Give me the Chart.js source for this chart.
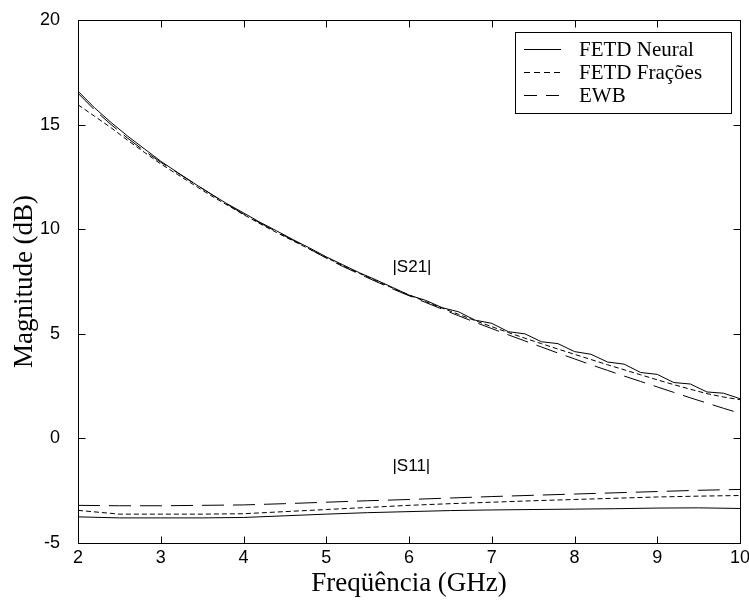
<!DOCTYPE html>
<html><head><meta charset="utf-8">
<script src="https://cdn.jsdelivr.net/npm/chart.js@4.4.1/dist/chart.umd.min.js"></script>
<style>html,body{margin:0;padding:0;background:#fff}</style>
</head><body>
<canvas id="c" width="749" height="603" style="display:block;width:749px;height:603px"></canvas>
<script>
const seriesNames = ['FETD Neural', 'FETD Frações', 'EWB'];
const xTicks = [2, 3, 4, 5, 6, 7, 8, 9, 10];
const yTicks = [-5, 0, 5, 10, 15, 20];

const freqS21 = [2.0,2.2,2.4,2.6,2.8,3.0,3.2,3.4,3.6,3.8,4.0,4.2,4.4,4.6,4.8,5.0,5.2,5.4,5.6,5.8,6.0,6.2,6.4,6.6,6.8,7.0,7.2,7.4,7.6,7.8,8.0,8.2,8.4,8.6,8.8,9.0,9.2,9.4,9.6,9.8,10.0];
const s21Neural = [16.6,15.8,15.1,14.45,13.85,13.25,12.72,12.2,11.7,11.22,10.78,10.33,9.92,9.5,9.1,8.68,8.3,7.92,7.58,7.22,6.85,6.6,6.25,6.05,5.65,5.5,5.1,5.0,4.62,4.53,4.15,4.02,3.65,3.55,3.15,3.06,2.67,2.6,2.22,2.16,1.9];
const s21Fracoes = [15.95,15.4,14.85,14.25,13.68,13.12,12.62,12.12,11.62,11.16,10.7,10.26,9.84,9.44,9.04,8.64,8.26,7.89,7.54,7.19,6.86,6.54,6.23,5.93,5.63,5.34,5.06,4.79,4.53,4.27,4.02,3.77,3.52,3.28,3.04,2.8,2.57,2.35,2.14,1.98,1.85];
const s21EWB = [16.5,15.7,15.0,14.35,13.75,13.2,12.7,12.2,11.7,11.2,10.72,10.3,9.88,9.47,9.05,8.62,8.22,7.86,7.5,7.15,6.82,6.5,6.18,5.86,5.55,5.25,4.95,4.66,4.37,4.08,3.8,3.52,3.25,2.98,2.72,2.46,2.2,1.94,1.69,1.44,1.2];

const freqS11 = [2.0,2.5,3.0,3.5,4.0,4.5,5.0,5.5,6.0,6.5,7.0,7.5,8.0,8.5,9.0,9.5,10.0];
const s11Neural = [-3.75,-3.8,-3.8,-3.8,-3.78,-3.7,-3.62,-3.55,-3.5,-3.45,-3.42,-3.4,-3.38,-3.36,-3.33,-3.32,-3.35];
const s11Fracoes = [-3.44,-3.62,-3.62,-3.62,-3.6,-3.5,-3.4,-3.3,-3.2,-3.12,-3.05,-2.98,-2.92,-2.86,-2.8,-2.76,-2.73];
const s11EWB = [-3.2,-3.22,-3.22,-3.2,-3.18,-3.12,-3.05,-2.98,-2.92,-2.85,-2.78,-2.72,-2.66,-2.6,-2.54,-2.48,-2.44];

const annotations = [
  {text: '|S21|', x: 5.8, y: 8.2},
  {text: '|S11|', x: 5.8, y: -1.35}
];

const dashes = [[], [5, 3], [22, 9]];
const legendDashes = [[], [6, 4], [13, 9]];

function pts(xs, ys) { return xs.map((v, i) => ({x: v, y: ys[i]})); }
function ds(label, xs, ys, k) {
  return {label, data: pts(xs, ys), borderColor: '#000', borderWidth: 1, borderDash: dashes[k],
    pointRadius: 0, fill: false, tension: 0};
}

const frame = {
  id: 'frame',
  afterDraw(chart) {
    const {ctx, chartArea: a, scales: {x, y}} = chart;
    const L = Math.round(a.left) + 0.5, R = Math.round(a.right) + 0.5;
    const T = Math.round(a.top) + 0.5, B = Math.round(a.bottom) + 0.5;
    ctx.save();
    ctx.strokeStyle = '#000'; ctx.lineWidth = 1; ctx.setLineDash([]);
    ctx.strokeRect(L, T, R - L, B - T);
    const tl = 7;
    ctx.beginPath();
    xTicks.forEach(v => {
      const px = Math.round(x.getPixelForValue(v)) + 0.5;
      ctx.moveTo(px, B); ctx.lineTo(px, B - tl);
      ctx.moveTo(px, T); ctx.lineTo(px, T + tl);
    });
    yTicks.forEach(v => {
      const py = Math.round(y.getPixelForValue(v)) + 0.5;
      ctx.moveTo(L, py); ctx.lineTo(L + tl, py);
      ctx.moveTo(R, py); ctx.lineTo(R - tl, py);
    });
    ctx.stroke();
    // annotations
    ctx.fillStyle = '#000';
    ctx.font = '17px "Liberation Sans", Arial, sans-serif';
    ctx.textAlign = 'left'; ctx.textBaseline = 'middle';
    annotations.forEach(an => {
      ctx.fillText(an.text, x.getPixelForValue(an.x), y.getPixelForValue(an.y));
    });
    // legend box
    const bx = 515.5, by = 32.5, bw = 216, bh = 81;
    ctx.fillStyle = '#fff';
    ctx.fillRect(bx, by, bw, bh);
    ctx.strokeRect(bx, by, bw, bh);
    ctx.font = '21px "Liberation Serif", "Times New Roman", serif';
    ctx.fillStyle = '#000';
    seriesNames.forEach((name, i) => {
      const ry = Math.round(by + 16 + i * 23) + 0.5;
      ctx.setLineDash(legendDashes[i]);
      ctx.beginPath(); ctx.moveTo(524, ry); ctx.lineTo(561, ry); ctx.stroke();
      ctx.setLineDash([]);
      ctx.fillText(name, 579, ry + 1);
    });
    ctx.restore();
  }
};

new Chart(document.getElementById('c'), {
  type: 'line',
  data: {
    datasets: [
      ds(seriesNames[0], freqS21, s21Neural, 0),
      ds(seriesNames[1], freqS21, s21Fracoes, 1),
      ds(seriesNames[2], freqS21, s21EWB, 2),
      ds(seriesNames[0], freqS11, s11Neural, 0),
      ds(seriesNames[1], freqS11, s11Fracoes, 1),
      ds(seriesNames[2], freqS11, s11EWB, 2)
    ]
  },
  options: {
    responsive: false,
    animation: false,
    layout: {padding: {left: 0, right: 9, top: 20, bottom: 0}},
    plugins: {legend: {display: false}, tooltip: {enabled: false}},
    scales: {
      x: {
        type: 'linear', min: 2, max: 10,
        afterBuildTicks: s => { s.ticks = xTicks.map(v => ({value: v})); },
        afterFit: s => { s.height = 60; s.paddingLeft = 0; s.paddingRight = 0; },
        grid: {display: false, drawTicks: false},
        border: {display: false},
        ticks: {color: '#000', padding: 4, maxRotation: 0, font: {family: '"Liberation Sans", Arial, sans-serif', size: 18}},
        title: {display: true, text: 'Freqüência (GHz)', color: '#000', padding: {top: 0, bottom: 3},
          font: {family: '"Liberation Serif", "Times New Roman", serif', size: 27}}
      },
      y: {
        type: 'linear', min: -5, max: 20,
        afterBuildTicks: s => { s.ticks = yTicks.map(v => ({value: v})); },
        afterFit: s => { s.width = 78; s.paddingTop = 0; s.paddingBottom = 0; },
        grid: {display: false, drawTicks: false},
        border: {display: false},
        ticks: {color: '#000', padding: 18, font: {family: '"Liberation Sans", Arial, sans-serif', size: 18}},
        title: {display: true, text: 'Magnitude (dB)', color: '#000', padding: {top: 9, bottom: 0},
          font: {family: '"Liberation Serif", "Times New Roman", serif', size: 27}}
      }
    }
  },
  plugins: [frame]
});
</script>
</body></html>
